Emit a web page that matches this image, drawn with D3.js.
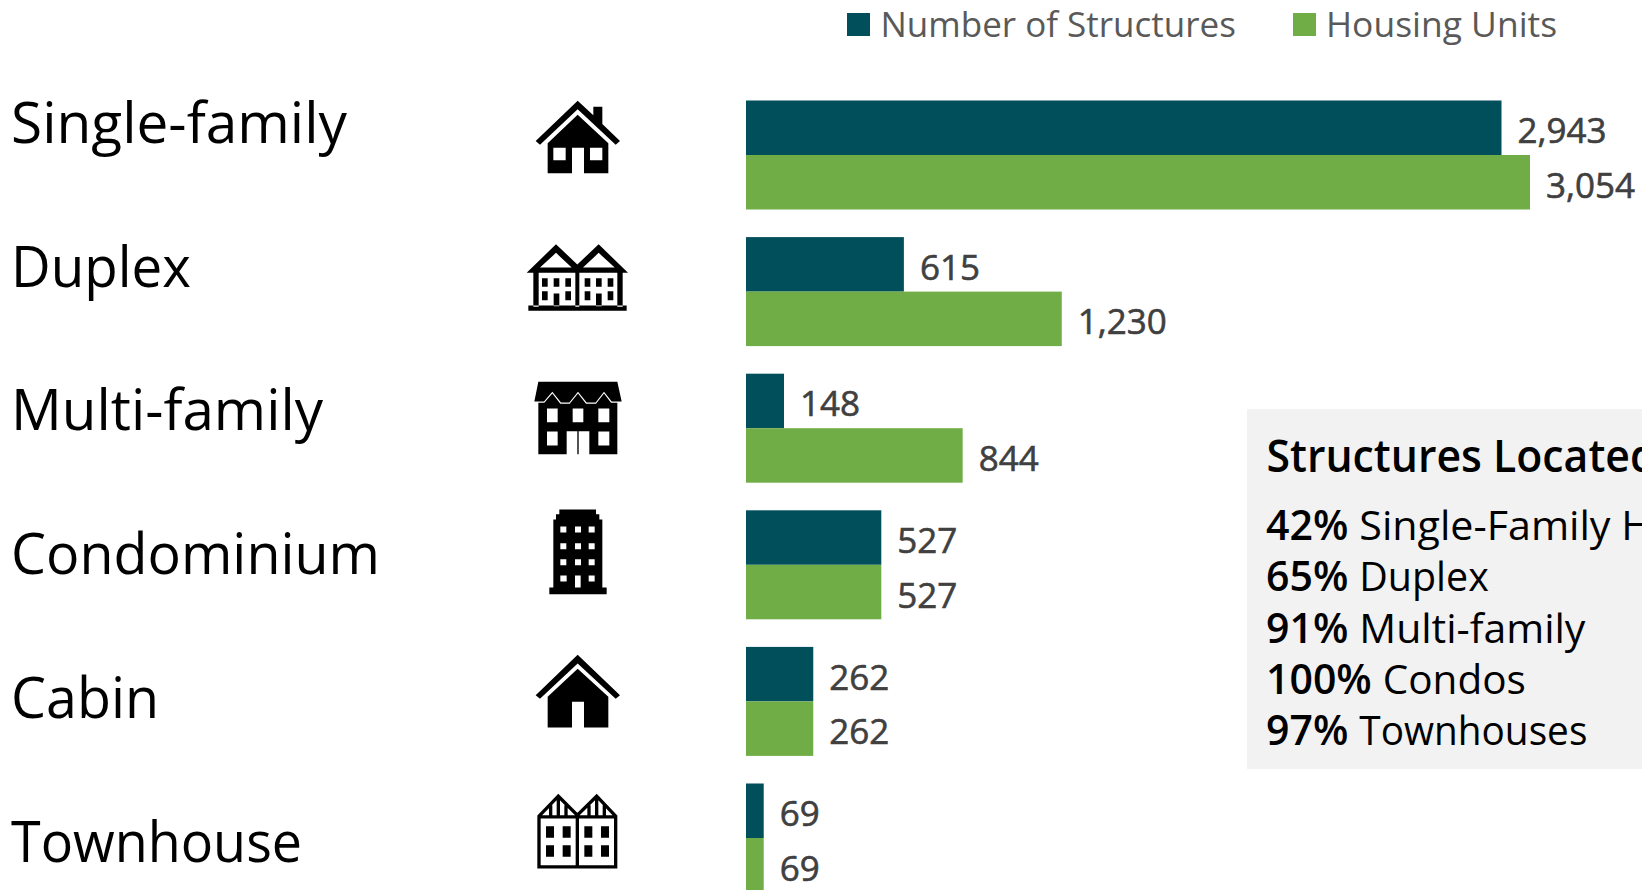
<!DOCTYPE html>
<html><head><meta charset="utf-8">
<script src="https://cdnjs.cloudflare.com/ajax/libs/d3/7.8.5/d3.min.js"></script>
<style>html,body{margin:0;padding:0;background:#fff;overflow:hidden}svg{display:block}text{font-family:"Open Sans",sans-serif}</style>
</head><body><svg id="c" width="1642" height="890"></svg>
<script>
const categories=["Single-family","Duplex","Multi-family","Condominium","Cabin","Townhouse"];
const structures=[2943,615,148,527,262,69];
const housingUnits=[3054,1230,844,527,262,69];
const seriesNames=["Number of Structures","Housing Units"];
const seriesColors=["#024F5C","#70AD47"];
const panelTitle="Structures Located in";
const panelPercents=["42%","65%","91%","100%","97%"];
const panelNames=["Single-Family Homes","Duplex","Multi-family","Condos","Townhouses"];
// horizontal fit of the substitute font to the reference's text widths
const labelWidths=[336,180,312,369,148,291];
const panelFit=[1.03,.984,1.024,1.012,.969];

const svg=d3.select("#c");
const W=1642,H=890;
const x=d3.scaleLinear().domain([0,3054]).range([746,1530]);
const y=d3.scaleBand().domain(categories).range([100.5,100.5+6*136.6-27.6]).paddingInner(27.6/136.6).paddingOuter(0);
const inner=d3.scaleBand().domain(seriesNames).range([0,y.bandwidth()]);
const labelY=d3.scalePoint().domain(categories).range([143,861.5]);
const color=d3.scaleOrdinal(seriesNames,seriesColors);
const squeeze=(sel,r)=>sel.each(function(d,i){
  const k=typeof r==="function"?r(d,i):r;
  d3.select(this).attr("textLength",this.getComputedTextLength()*k).attr("lengthAdjust","spacingAndGlyphs");
});

// category labels
svg.append("g").selectAll("text").data(categories).join("text")
  .attr("x",11).attr("y",d=>labelY(d)).attr("font-size",57).attr("fill","#000").text(d=>d)
  .attr("textLength",(d,i)=>labelWidths[i]).attr("lengthAdjust","spacingAndGlyphs");

// bars
const series=[structures,housingUnits];
seriesNames.forEach((s,i)=>{
  const g=svg.append("g");
  g.selectAll("rect").data(categories).join("rect")
    .attr("x",x(0)).attr("y",d=>y(d)+inner(s))
    .attr("width",(d,j)=>x(series[i][j])-x(0)).attr("height",inner.bandwidth())
    .attr("fill",color(s));
  g.selectAll("text").data(categories).join("text")
    .attr("x",(d,j)=>x(series[i][j])+16).attr("y",d=>y(d)+inner(s)+inner.bandwidth()/2+15.5)
    .attr("font-size",35).attr("fill","#404040").attr("stroke","#404040").attr("stroke-width",.6)
    .text((d,j)=>d3.format(",")(series[i][j]));
});

// legend
[[847,880.5],[1293,1326]].forEach((p,i)=>{
  svg.append("rect").attr("x",p[0]).attr("y",13).attr("width",23).attr("height",23).attr("fill",seriesColors[i]);
  svg.append("text").attr("x",p[1]).attr("y",36.5).attr("font-size",35).attr("fill","#595959").text(seriesNames[i]).call(squeeze,i?1.012:1);
});

// panel
svg.append("rect").attr("x",1247).attr("y",409).attr("width",W-1247).attr("height",360).attr("fill","#F2F2F2");
svg.append("text").attr("x",1266.5).attr("y",472).attr("font-size",46).attr("font-weight",600).attr("fill","#000").text(panelTitle).call(squeeze,.93);
const rowY=d3.scalePoint().domain(panelNames).range([540,745]);
const rows=svg.append("g").selectAll("g").data(panelNames).join("g");
rows.append("text").attr("class","pct").attr("x",1266).attr("y",d=>rowY(d)).attr("font-size",41).attr("font-weight",600).attr("fill","#000").text((d,i)=>panelPercents[i]);
rows.each(function(d,i){
  const g=d3.select(this);
  const w=g.select(".pct").node().getComputedTextLength();
  g.append("text").attr("x",1266+w+11).attr("y",rowY(d)).attr("font-size",40).attr("fill","#000").text(d).call(squeeze,panelFit[i]);
});

// icons: outlines in 1/3 px units, relative to each icon's own origin
const rect=(a,b,c,d)=>`M${a},${b}H${c}V${d}H${a}Z`;
const grid=(xs,w,ys,h)=>ys.map(v=>xs.map(u=>rect(u,v,u+w,v+h)).join("")).join("");
const icons=[
 {dy:-20.5,d:"M233,62L280,106V80H307V132L360,183L347,194L233,88L120,194L107,183Z"+
   "M233,104L325,190V280H252V203H216V280H143V190Z"+rect(160,203,197,241)+rect(270,203,307,241)},
 {dy:-156.9,d:"M80,578L168,492L232,553L296,492L384,578ZM120,562H215L168,518ZM249,562H344L296,518Z"+
   rect(100,578,116,680)+rect(226,578,238,680)+rect(352,578,368,680)+rect(85,676,380,692)+
   grid([126,161,196,254,288,323],17,[594],26)+grid([126,196,254,323],17,[633],27)+grid([161,288],17,[640],38)},
 {dy:-13.5,d:"M115,65H352L365,124H335L312,95L287,127H260L234,95L208,127H183L157,95L132,124H103Z"+
   "M115,128H133L157,100L181,131H209L234,100L258,131H288L312,100L333,128H352V282H268V213H200V282H115Z"+
   rect(141,145,173,186)+rect(218,145,250,186)+rect(295,145,328,186)+rect(141,214,173,256)+rect(295,214,328,256)+rect(232,213,236,282)},
 {dy:-150.1,d:"M178,448H288V462H298V478H307V682H320V702H148V682H160V478H168V462H178Z"+
   grid([181,225,266],18,[499,549,597],18)+rect(181,646,200,664)+rect(266,646,284,664)+rect(225,646,242,682)},
 {dy:-6.7,d:"M233,44L360,165L347,176L233,70L120,176L107,165Z"+
   "M233,86L325,170V262H252V185H216V262H143V170Z"},
 {dy:-143.3,d:grid([138,188,253,303],24,[558,615],35),
  stroke:"M117,530H347V680H117ZM232,530V680M117,528L175,468L232,525L290,468L347,528M175,470V530M152,495V530M198,495V530M267,495V530M290,470V530M313,495V530"}
];
svg.append("g").selectAll("g").data(categories).join("g")
  .attr("transform",(d,i)=>`translate(500,${y(d)+icons[i].dy}) scale(${1/3})`)
  .each(function(d,i){
    const g=d3.select(this);
    g.append("path").attr("d",icons[i].d).attr("fill","#000").attr("fill-rule","evenodd");
    if(icons[i].stroke) g.append("path").attr("d",icons[i].stroke).attr("fill","none").attr("stroke","#000").attr("stroke-width",10);
  });
</script></body></html>
